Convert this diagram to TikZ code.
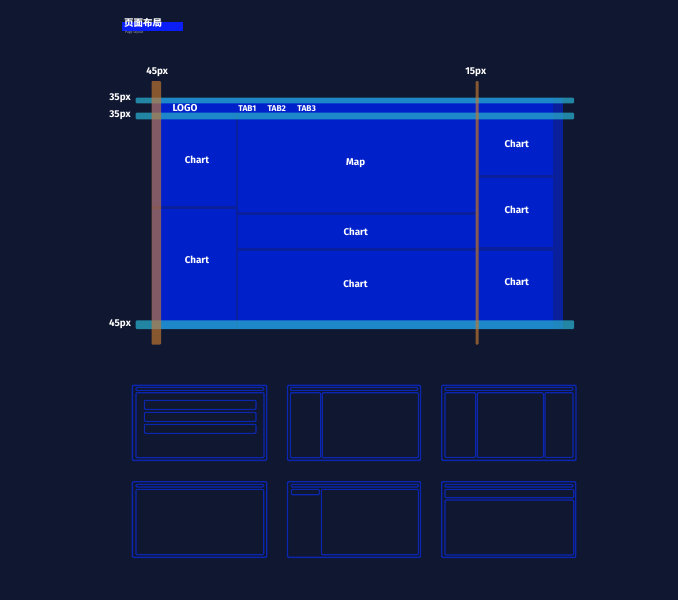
\documentclass[tikz,border=0pt]{standalone}
\usepackage{fontspec}
\setmainfont{Fira Sans}
\newfontfamily\cjkfont{Noto Sans CJK SC}
\definecolor{bg}{HTML}{101831}
\definecolor{basec}{HTML}{0A1F9C}
\definecolor{panelc}{HTML}{0021CA}
\definecolor{cyanc}{HTML}{28AACA}
\definecolor{orangec}{HTML}{C87A30}
\definecolor{thumbc}{HTML}{0B26B0}
\definecolor{titleblue}{HTML}{0A1EF5}
\begin{document}
\begin{tikzpicture}[x=1pt,y=-1pt,
  lbl/.style={text=white,font=\bfseries\fontsize{9.8}{9.8}\selectfont,inner sep=0pt},
  tab/.style={text=white,font=\bfseries\fontsize{8.4}{8.4}\selectfont,inner sep=0pt},
  dim/.style={text=white,font=\bfseries\fontsize{9.9}{9.9}\selectfont,inner sep=0pt},
  panel/.style={fill=panelc},
  hbar/.style={fill=cyanc,fill opacity=0.75,rounded corners=1pt},
  vbar/.style={fill=orangec,fill opacity=0.65,rounded corners=1pt},
  thumb/.style={draw=thumbc,line width=1.1pt,rounded corners=1pt},
  thumbout/.style={draw=thumbc,line width=1.4pt,rounded corners=1pt}]
\fill[bg] (0,0) rectangle (678,600);
\useasboundingbox (0,0) rectangle (678,600);
% title
\fill[titleblue] (122,22) rectangle (183,31);
\node[text=white,font=\cjkfont\bfseries\fontsize{9.5}{9.5}\selectfont,inner sep=0pt,anchor=west] (title) at (124,22.5) {页面布局};
\node[text=white!60!bg,font=\fontsize{3.5}{3.5}\selectfont,inner sep=0pt,anchor=west] (subtitle) at (125,32.5) {Page layout};
% main area
\fill[basec] (152,98) rectangle (563,329);
\fill[panel] (152,98) rectangle (553,113);
\fill[panel] (152,113) rectangle (236,206);
\fill[panel] (152,209) rectangle (236,329);
\fill[panel] (238,113) rectangle (475.5,212);
\fill[panel] (238,215) rectangle (475.5,247.5);
\fill[panel] (238,251) rectangle (475.5,329);
\fill[panel] (478.5,113) rectangle (553,175);
\fill[panel] (478.5,178.3) rectangle (553,246.8);
\fill[panel] (478.5,251) rectangle (553,329);
% labels
\node[tab,font=\bfseries\fontsize{10}{10}\selectfont] (logo) at (185,108.5) {LOGO};
\node[tab] (tab1) at (247.3,108.5) {TAB1};
\node[tab] (tab2) at (276.8,108.5) {TAB2};
\node[tab] (tab3) at (306.7,108.5) {TAB3};
\node[lbl] (c1) at (197,159.7) {Chart};
\node[lbl] (c2) at (197,259.7) {Chart};
\node[lbl] (map) at (355.7,163) {Map};
\node[lbl] (c3) at (355.7,231.8) {Chart};
\node[lbl] (c4) at (355.5,284) {Chart};
\node[lbl] (c5) at (516.8,143.7) {Chart};
\node[lbl] (c6) at (516.8,210.3) {Chart};
\node[lbl] (c7) at (516.8,282.2) {Chart};
% guide bars
\fill[hbar] (135.7,97.7) rectangle (574,103.3);
\fill[hbar] (135.7,112.7) rectangle (574,119.3);
\fill[hbar] (135.7,320.3) rectangle (574,329);
\fill[vbar] (151.7,81) rectangle (161,344.7);
\fill[vbar] (475.7,81) rectangle (478.7,344.7);
\node[dim] (d45a) at (157.2,72.3) {45px};
\node[dim] (d15) at (475.7,72.3) {15px};
\node[dim] (d35a) at (120,98.3) {35px};
\node[dim] (d35b) at (120,115.2) {35px};
\node[dim] (d45b) at (120,324.3) {45px};
% thumbnails row 1
\draw[thumbout] (132.3,385.3) rectangle (266.7,460.3);
\draw[thumb] (136,387.3) rectangle (263.7,390.3);
\draw[thumb] (136,392.7) rectangle (264,457.7);
\draw[thumb] (144.3,400.3) rectangle (256,409.3);
\draw[thumb] (144.3,412.3) rectangle (256,421.3);
\draw[thumb] (144.3,424.3) rectangle (256,433.3);
\draw[thumbout] (287.5,385.3) rectangle (420.5,460.3);
\draw[thumb] (290.3,387.3) rectangle (417.7,390.3);
\draw[thumb] (290.3,392.7) rectangle (320.7,457.7);
\draw[thumb] (322.3,392.7) rectangle (418.3,457.7);
\draw[thumbout] (441.7,385.3) rectangle (576,460.3);
\draw[thumb] (445,387.3) rectangle (573,390.3);
\draw[thumb] (445,392.7) rectangle (475.7,457.3);
\draw[thumb] (477.3,392.7) rectangle (543.3,457.3);
\draw[thumb] (545,392.7) rectangle (573,457.3);
% thumbnails row 2
\draw[thumbout] (132.3,481.7) rectangle (266.7,557.3);
\draw[thumb] (136,484.3) rectangle (263.7,487);
\draw[thumb] (136,489.3) rectangle (263.7,554.7);
\draw[thumbout] (287.5,481.7) rectangle (420.5,557.3);
\draw[thumb] (291.3,484.3) rectangle (418.3,487);
\draw[thumb] (291.3,489.3) rectangle (319.3,494.7);
\draw[thumb] (321.3,489.3) rectangle (418.3,554.7);
\draw[thumbout] (441.7,481.7) rectangle (575.7,557.3);
\draw[thumb] (445,484.3) rectangle (573,487);
\draw[thumb] (445,489.3) rectangle (573.7,497.7);
\draw[thumb] (445,500) rectangle (573.7,555);
\end{tikzpicture}
\end{document}
